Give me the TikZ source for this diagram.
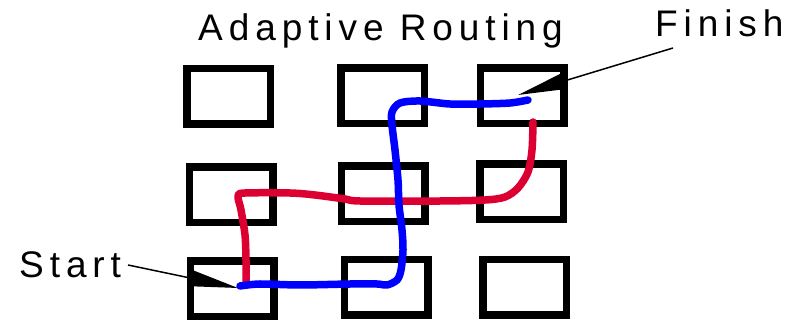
\documentclass[tikz,border=0pt]{standalone}
\usepackage{fontspec}
\setmainfont{Liberation Sans}
\usetikzlibrary{arrows.meta}
\definecolor{routered}{RGB}{220,0,50}
\definecolor{routeblue}{RGB}{0,0,255}
\tikzset{
  cell/.style={draw=black, line width=7.5pt, minimum width=83.5pt, minimum height=55.5pt, inner sep=0pt},
  caption/.style={font=\fontsize{37}{40}\selectfont\addfontfeature{LetterSpace=16}, inner sep=0pt, anchor=base west},
  pointer/.style={line width=1.5pt, -{Triangle[length=48pt,width=16pt]}},
  route/.style={line width=7.5pt, line cap=round, line join=round}
}
\begin{document}
\begin{tikzpicture}[x=1pt,y=-1pt]
\useasboundingbox (0,0) rectangle (795,320);
% grid of nodes
\node[cell] (b11) at (228.5,96.5) {};
\node[cell] (b12) at (382.5,96) {};
\node[cell] (b13) at (522,96) {};
\node[cell] (b21) at (231,195) {};
\node[cell] (b22) at (383,194) {};
\node[cell] (b23) at (521.5,192) {};
\node[cell] (b31) at (232,289) {};
\node[cell] (b32) at (386,287.5) {};
\node[cell] (b33) at (524.5,287.5) {};
% labels
\node[caption] (title) at (198,41) {Adaptive Routing};
\node[caption] (finish) at (655,37) {Finish};
\node[caption] (start) at (19,278) {Start};
% red route
\draw[route, routered] plot[smooth, tension=0.5] coordinates {
  (533,122) (532,150) (528,172) (518,188) (505,197) (485,200) (440,201)
  (360,201) (345,199) (315,195) (290,193) (245,193) (238,196)
  (241,210) (245,235) (246,260) (246,281)};
% blue route
\draw[route, routeblue] plot[smooth, tension=0.5] coordinates {
  (240,286) (260,284) (300,285) (350,284) (377,284) (387,285) (397,280)
  (401,270) (403,250) (402,230) (399,205) (398,180) (395,150) (392,125)
  (392,112) (400,103) (420,101) (450,104) (480,104) (510,103) (528,100)};
% pointers from the labels
\coordinate (startfoot) at (128,265);
\coordinate (starttip) at (238,288);
\coordinate (finishfoot) at (673,48);
\coordinate (finishtip) at (518,95);
\draw[pointer] (startfoot) -- (starttip);
\draw[pointer] (finishfoot) -- (finishtip);
\end{tikzpicture}
\end{document}
